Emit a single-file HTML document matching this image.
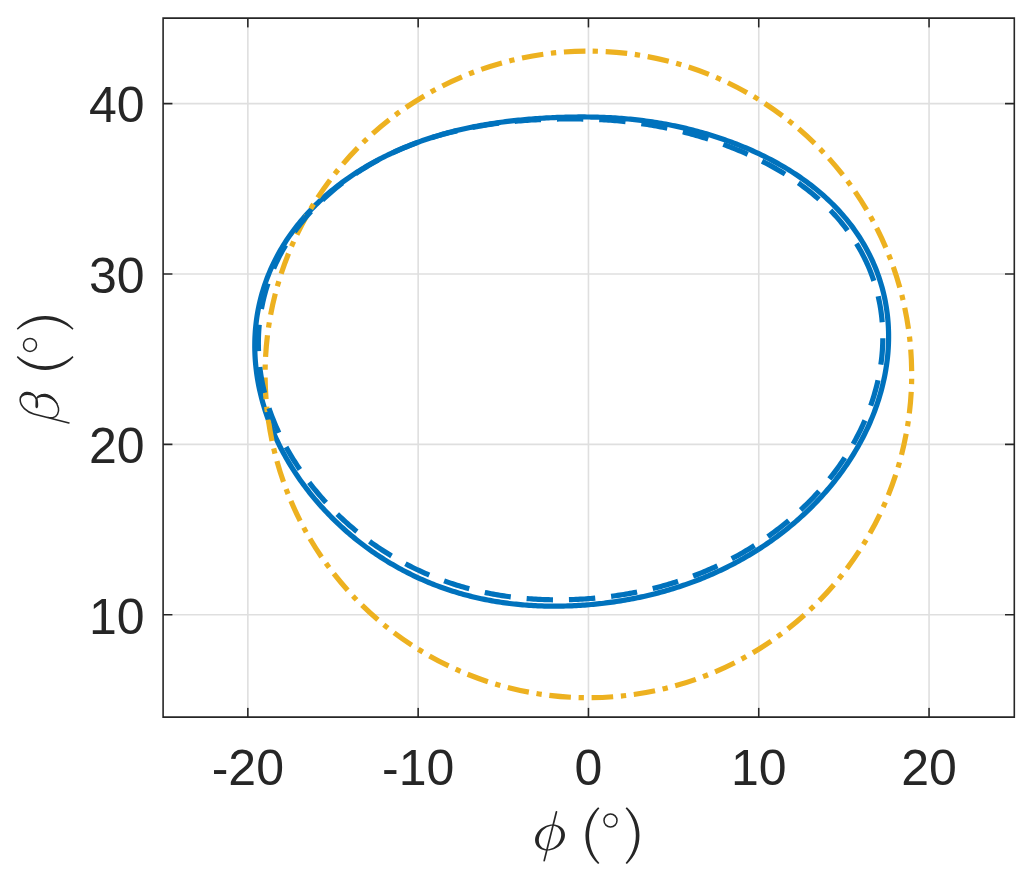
<!DOCTYPE html>
<html><head><meta charset="utf-8"><title>chart</title>
<style>html,body{margin:0;padding:0;background:#fff;}svg{display:block;}text{font-family:"Liberation Sans",sans-serif;fill:#262626;}</style></head><body>
<svg width="1033" height="882" viewBox="0 0 1033 882">
<rect width="1033" height="882" fill="#fff"/>
<path d="M247.85 28.10V707.10M418.15 28.10V707.10M588.45 28.10V707.10M758.75 28.10V707.10M929.05 28.10V707.10M173.10 614.80H1004.30M173.10 444.40H1004.30M173.10 274.00H1004.30M173.10 103.60H1004.30" stroke="#dfdfdf" stroke-width="1.6" fill="none"/>
<path d="M886.95 362.00 L886.58 364.75 L886.17 367.48 L885.72 370.22 L885.24 372.94 L884.73 375.65 L884.18 378.36 L883.59 381.06 L882.97 383.75 L882.32 386.42 L881.64 389.09 L880.92 391.75 L880.17 394.39 L879.39 397.02 L878.58 399.64 L877.73 402.25 L876.86 404.85 L875.96 407.43 L875.03 409.99 L874.07 412.55 L873.08 415.09 L872.07 417.61 L871.02 420.12 L869.95 422.62 L868.86 425.10 L867.74 427.56 L866.59 430.01 L865.42 432.44 L864.23 434.86 L863.01 437.26 L861.76 439.64 L860.50 442.01 L859.21 444.36 L857.90 446.69 L856.57 449.00 L855.22 451.30 L853.84 453.58 L852.45 455.84 L851.04 458.08 L849.60 460.30 L848.15 462.51 L846.68 464.70 L845.19 466.87 L843.69 469.02 L842.16 471.15 L840.62 473.27 L839.06 475.36 L837.49 477.44 L835.90 479.50 L834.29 481.53 L832.67 483.55 L831.04 485.55 L829.39 487.54 L827.72 489.50 L826.05 491.44 L824.36 493.37 L822.65 495.27 L820.94 497.16 L819.21 499.03 L817.47 500.88 L815.71 502.71 L813.95 504.52 L812.17 506.31 L810.39 508.08 L808.59 509.84 L806.78 511.57 L804.97 513.29 L803.14 514.99 L801.30 516.67 L799.46 518.33 L797.60 519.97 L795.74 521.59 L793.87 523.20 L791.99 524.78 L790.10 526.35 L788.20 527.90 L786.30 529.43 L784.39 530.94 L782.48 532.44 L780.55 533.92 L778.62 535.38 L776.68 536.82 L774.74 538.24 L772.79 539.65 L770.84 541.04 L768.88 542.41 L766.91 543.76 L764.94 545.10 L762.97 546.41 L760.99 547.72 L759.00 549.00 L757.01 550.27 L755.02 551.52 L753.02 552.75 L751.01 553.97 L749.01 555.17 L747.00 556.35 L744.98 557.52 L742.96 558.67 L740.94 559.81 L738.92 560.93 L736.89 562.03 L734.86 563.11 L732.83 564.18 L730.79 565.24 L728.75 566.28 L726.71 567.30 L724.66 568.31 L722.61 569.30 L720.56 570.28 L718.51 571.24 L716.46 572.19 L714.40 573.12 L712.34 574.03 L710.28 574.94 L708.22 575.82 L706.16 576.69 L704.09 577.55 L702.02 578.39 L699.95 579.22 L697.88 580.03 L695.81 580.83 L693.74 581.62 L691.66 582.39 L689.59 583.15 L687.51 583.89 L685.43 584.62 L683.35 585.33 L681.27 586.03 L679.19 586.72 L677.10 587.40 L675.02 588.06 L672.94 588.70 L670.85 589.34 L668.76 589.96 L666.68 590.57 L664.59 591.16 L662.50 591.75 L660.41 592.32 L658.32 592.87 L656.23 593.42 L654.14 593.95 L652.05 594.47 L649.95 594.98 L647.86 595.47 L645.77 595.96 L643.67 596.43 L641.58 596.89 L639.48 597.34 L637.39 597.77 L635.29 598.20 L633.19 598.61 L631.09 599.01 L628.99 599.40 L626.90 599.78 L624.80 600.15 L622.70 600.50 L620.59 600.85 L618.49 601.18 L616.39 601.50 L614.29 601.82 L612.18 602.12 L610.08 602.41 L607.97 602.69 L605.86 602.95 L603.76 603.21 L601.65 603.46 L599.54 603.69 L597.43 603.92 L595.31 604.14 L593.20 604.34 L591.09 604.53 L588.97 604.72 L586.86 604.89 L584.74 605.05 L582.62 605.20 L580.50 605.34 L578.38 605.47 L576.25 605.59 L574.13 605.70 L572.00 605.79 L569.87 605.88 L567.74 605.95 L565.61 606.02 L563.48 606.07 L561.34 606.11 L559.21 606.14 L557.07 606.16 L554.93 606.17 L552.78 606.16 L550.64 606.15 L548.49 606.12 L546.35 606.08 L544.20 606.03 L542.04 605.96 L539.89 605.89 L537.74 605.80 L535.58 605.70 L533.42 605.58 L531.26 605.46 L529.10 605.32 L526.93 605.17 L524.77 605.00 L522.60 604.82 L520.43 604.63 L518.26 604.42 L516.08 604.20 L513.91 603.97 L511.73 603.72 L509.55 603.46 L507.38 603.18 L505.19 602.89 L503.01 602.59 L500.83 602.26 L498.65 601.93 L496.46 601.58 L494.28 601.21 L492.09 600.83 L489.90 600.43 L487.71 600.02 L485.52 599.59 L483.33 599.15 L481.14 598.69 L478.95 598.21 L476.76 597.72 L474.57 597.21 L472.38 596.68 L470.19 596.14 L468.01 595.58 L465.82 595.00 L463.63 594.40 L461.44 593.79 L459.25 593.16 L457.07 592.52 L454.88 591.85 L452.70 591.17 L450.52 590.47 L448.34 589.75 L446.16 589.02 L443.99 588.26 L441.81 587.49 L439.64 586.70 L437.47 585.89 L435.30 585.07 L433.14 584.22 L430.98 583.36 L428.82 582.48 L426.66 581.58 L424.51 580.66 L422.36 579.72 L420.22 578.77 L418.08 577.79 L415.94 576.80 L413.81 575.79 L411.68 574.75 L409.55 573.70 L407.43 572.63 L405.32 571.55 L403.21 570.44 L401.10 569.31 L399.01 568.17 L396.91 567.00 L394.82 565.82 L392.74 564.62 L390.66 563.39 L388.59 562.15 L386.53 560.89 L384.47 559.61 L382.42 558.31 L380.38 557.00 L378.34 555.66 L376.31 554.30 L374.29 552.93 L372.27 551.53 L370.27 550.12 L368.27 548.69 L366.28 547.23 L364.29 545.76 L362.32 544.27 L360.35 542.76 L358.40 541.23 L356.45 539.69 L354.51 538.12 L352.58 536.53 L350.67 534.93 L348.76 533.30 L346.86 531.66 L344.97 529.99 L343.09 528.31 L341.22 526.61 L339.37 524.89 L337.52 523.15 L335.69 521.39 L333.87 519.62 L332.06 517.82 L330.26 516.00 L328.48 514.17 L326.70 512.32 L324.94 510.45 L323.20 508.56 L321.47 506.65 L319.75 504.72 L318.04 502.77 L316.35 500.81 L314.67 498.82 L313.01 496.82 L311.37 494.80 L309.73 492.76 L308.12 490.70 L306.52 488.63 L304.94 486.53 L303.37 484.42 L301.82 482.29 L300.29 480.14 L298.78 477.98 L297.28 475.79 L295.81 473.59 L294.35 471.37 L292.91 469.13 L291.49 466.88 L290.09 464.61 L288.71 462.32 L287.35 460.01 L286.01 457.69 L284.70 455.35 L283.40 452.99 L282.13 450.62 L280.88 448.23 L279.66 445.83 L278.46 443.41 L277.28 440.97 L276.13 438.52 L275.00 436.05 L273.90 433.57 L272.82 431.07 L271.77 428.56 L270.75 426.03 L269.75 423.49 L268.78 420.94 L267.84 418.37 L266.93 415.79 L266.05 413.20 L265.19 410.59 L264.37 407.98 L263.58 405.35 L262.82 402.70 L262.09 400.05 L261.39 397.39 L260.73 394.72 L260.10 392.03 L259.50 389.34 L258.93 386.64 L258.40 383.93 L257.91 381.21 L257.44 378.49 L257.02 375.75 L256.63 373.01 L256.27 370.27 L255.96 367.52 L255.68 364.76 L255.43 362.00 L255.23 359.24 L255.06 356.47 L254.93 353.70 L254.84 350.92 L254.78 348.15 L254.77 345.37 L254.80 342.60 L254.86 339.82 L254.96 337.05 L255.11 334.28 L255.29 331.50 L255.51 328.74 L255.78 325.97 L256.08 323.21 L256.43 320.45 L256.81 317.70 L257.23 314.96 L257.70 312.22 L258.20 309.49 L258.75 306.77 L259.33 304.05 L259.96 301.35 L260.62 298.65 L261.33 295.96 L262.07 293.29 L262.86 290.63 L263.68 287.98 L264.54 285.34 L265.44 282.72 L266.38 280.11 L267.35 277.51 L268.37 274.93 L269.42 272.37 L270.50 269.82 L271.63 267.29 L272.79 264.78 L273.98 262.28 L275.21 259.81 L276.48 257.35 L277.77 254.91 L279.11 252.49 L280.47 250.09 L281.87 247.71 L283.30 245.36 L284.76 243.02 L286.25 240.71 L287.78 238.42 L289.33 236.15 L290.91 233.90 L292.52 231.67 L294.15 229.47 L295.82 227.30 L297.51 225.14 L299.22 223.01 L300.96 220.91 L302.73 218.83 L304.52 216.77 L306.33 214.74 L308.16 212.73 L310.02 210.75 L311.90 208.79 L313.79 206.85 L315.71 204.95 L317.65 203.06 L319.60 201.21 L321.58 199.37 L323.57 197.57 L325.57 195.78 L327.60 194.03 L329.63 192.29 L331.69 190.59 L333.75 188.90 L335.84 187.25 L337.93 185.62 L340.04 184.01 L342.15 182.42 L344.28 180.87 L346.42 179.33 L348.58 177.82 L350.74 176.34 L352.91 174.88 L355.08 173.44 L357.27 172.02 L359.47 170.63 L361.67 169.27 L363.88 167.92 L366.09 166.60 L368.32 165.31 L370.54 164.03 L372.78 162.78 L375.02 161.55 L377.26 160.34 L379.51 159.16 L381.76 157.99 L384.01 156.85 L386.27 155.73 L388.53 154.63 L390.80 153.55 L393.06 152.49 L395.33 151.46 L397.60 150.44 L399.88 149.45 L402.15 148.47 L404.43 147.51 L406.70 146.58 L408.98 145.66 L411.25 144.76 L413.53 143.89 L415.81 143.03 L418.08 142.19 L420.36 141.36 L422.64 140.56 L424.91 139.78 L427.19 139.01 L429.46 138.26 L431.73 137.52 L434.00 136.81 L436.27 136.11 L438.54 135.43 L440.81 134.77 L443.07 134.12 L445.33 133.48 L447.59 132.87 L449.85 132.27 L452.10 131.68 L454.36 131.11 L456.61 130.56 L458.85 130.02 L461.10 129.49 L463.34 128.98 L465.58 128.49 L467.82 128.00 L470.05 127.53 L472.28 127.08 L474.51 126.63 L476.73 126.20 L478.95 125.79 L481.17 125.38 L483.39 124.99 L485.60 124.61 L487.80 124.24 L490.01 123.88 L492.21 123.54 L494.41 123.20 L496.61 122.88 L498.80 122.56 L500.99 122.26 L503.17 121.97 L505.35 121.69 L507.53 121.41 L509.71 121.15 L511.89 120.89 L514.06 120.65 L516.23 120.41 L518.39 120.19 L520.55 119.97 L522.72 119.76 L524.87 119.56 L527.03 119.36 L529.18 119.18 L531.34 119.00 L533.49 118.83 L535.63 118.67 L537.78 118.51 L539.92 118.37 L542.07 118.23 L544.21 118.09 L546.35 117.97 L548.49 117.85 L550.63 117.74 L552.77 117.64 L554.91 117.54 L557.04 117.45 L559.18 117.37 L561.32 117.30 L563.45 117.23 L565.59 117.17 L567.73 117.12 L569.86 117.07 L572.00 117.03 L574.14 117.00 L576.28 116.98 L578.42 116.96 L580.56 116.95 L582.70 116.95 L584.84 116.96 L586.99 116.98 L589.13 117.00 L591.28 117.03 L593.43 117.07 L595.58 117.12 L597.73 117.18 L599.89 117.25 L602.04 117.32 L604.20 117.41 L606.36 117.50 L608.53 117.60 L610.69 117.72 L612.86 117.84 L615.03 117.97 L617.20 118.12 L619.38 118.27 L621.55 118.43 L623.73 118.61 L625.92 118.79 L628.10 118.99 L630.29 119.19 L632.48 119.41 L634.68 119.64 L636.87 119.88 L639.07 120.14 L641.28 120.40 L643.48 120.68 L645.69 120.97 L647.90 121.27 L650.12 121.58 L652.33 121.91 L654.55 122.25 L656.78 122.60 L659.00 122.96 L661.23 123.34 L663.46 123.73 L665.70 124.14 L667.93 124.56 L670.17 124.99 L672.42 125.43 L674.66 125.89 L676.91 126.37 L679.16 126.85 L681.42 127.36 L683.67 127.87 L685.93 128.40 L688.20 128.95 L690.46 129.51 L692.73 130.08 L695.00 130.67 L697.27 131.28 L699.55 131.90 L701.83 132.53 L704.11 133.18 L706.39 133.85 L708.68 134.53 L710.97 135.23 L713.26 135.94 L715.55 136.67 L717.84 137.42 L720.14 138.19 L722.44 138.97 L724.74 139.76 L727.04 140.58 L729.34 141.41 L731.65 142.26 L733.95 143.13 L736.26 144.02 L738.57 144.92 L740.88 145.85 L743.19 146.79 L745.50 147.75 L747.81 148.73 L750.11 149.73 L752.42 150.75 L754.73 151.79 L757.04 152.85 L759.34 153.93 L761.65 155.04 L763.95 156.16 L766.25 157.31 L768.54 158.47 L770.83 159.66 L773.12 160.88 L775.41 162.11 L777.69 163.37 L779.96 164.65 L782.23 165.96 L784.50 167.28 L786.75 168.64 L789.00 170.01 L791.24 171.42 L793.48 172.84 L795.70 174.29 L797.91 175.77 L800.12 177.27 L802.31 178.80 L804.49 180.36 L806.66 181.94 L808.82 183.54 L810.96 185.18 L813.09 186.84 L815.20 188.53 L817.30 190.24 L819.38 191.98 L821.44 193.75 L823.49 195.54 L825.51 197.37 L827.52 199.22 L829.51 201.09 L831.47 203.00 L833.41 204.93 L835.33 206.89 L837.23 208.87 L839.10 210.88 L840.95 212.92 L842.77 214.98 L844.56 217.08 L846.33 219.19 L848.07 221.34 L849.78 223.50 L851.46 225.70 L853.11 227.92 L854.73 230.16 L856.31 232.43 L857.87 234.72 L859.39 237.04 L860.88 239.38 L862.33 241.74 L863.75 244.12 L865.14 246.53 L866.49 248.96 L867.80 251.41 L869.07 253.88 L870.31 256.36 L871.51 258.87 L872.67 261.40 L873.79 263.94 L874.87 266.51 L875.91 269.08 L876.92 271.68 L877.88 274.29 L878.80 276.92 L879.68 279.56 L880.52 282.21 L881.32 284.88 L882.08 287.56 L882.80 290.25 L883.47 292.95 L884.10 295.66 L884.70 298.38 L885.25 301.11 L885.75 303.85 L886.22 306.59 L886.64 309.35 L887.02 312.11 L887.36 314.87 L887.66 317.64 L887.92 320.41 L888.14 323.18 L888.31 325.96 L888.44 328.74 L888.54 331.52 L888.59 334.30 L888.60 337.08 L888.58 339.86 L888.51 342.64 L888.40 345.42 L888.26 348.19 L888.07 350.96 L887.85 353.73 L887.59 356.49 L887.29 359.25 Z" fill="none" stroke="#0072BD" stroke-width="5.2" stroke-linejoin="round"/>
<path d="M588.40 51.10 A323.3 323.3 0 1 1 588.39 51.10" fill="none" stroke="#EDB120" stroke-width="5.2" stroke-dasharray="21.6 7.7 5.3 7.72" stroke-dashoffset="-17.30"/>
<path d="M863.72 256.59 L864.92 258.99 L866.08 261.42 L867.20 263.86 L868.29 266.32 L869.34 268.79 L870.35 271.28 L871.32 273.79 L872.26 276.31 L873.16 278.85 L874.01 281.40 L874.83 283.96 L875.61 286.54 L876.35 289.13 L877.05 291.73 L877.71 294.34 L878.33 296.96 L878.91 299.59 L879.45 302.23 L879.95 304.88 L880.41 307.53 L880.83 310.20 L881.20 312.87 L881.54 315.54 L881.84 318.22 L882.10 320.90 L882.32 323.59 L882.50 326.28 L882.64 328.98 L882.74 331.67 L882.80 334.37 L882.82 337.07 L882.80 339.76 L882.75 342.46 L882.65 345.16 L882.52 347.85 L882.35 350.54 L882.14 353.23 L881.90 355.91 L881.62 358.60 L881.30 361.27 L880.94 363.94 L880.56 366.61 L880.13 369.27 L879.67 371.92 L879.18 374.56 L878.65 377.20 L878.08 379.83 L877.49 382.45 L876.86 385.06 L876.20 387.66 L875.51 390.25 L874.78 392.83 L874.03 395.40 L873.24 397.96 L872.43 400.50 L871.58 403.04 L870.71 405.56 L869.80 408.07 L868.87 410.56 L867.91 413.04 L866.93 415.51 L865.91 417.97 L864.87 420.41 L863.81 422.83 L862.72 425.25 L861.60 427.64 L860.46 430.02 L859.29 432.39 L858.11 434.74 L856.89 437.07 L855.66 439.39 L854.40 441.69 L853.12 443.97 L851.82 446.24 L850.50 448.49 L849.16 450.72 L847.80 452.94 L846.42 455.14 L845.02 457.32 L843.60 459.48 L842.16 461.63 L840.71 463.76 L839.23 465.87 L837.74 467.96 L836.23 470.04 L834.71 472.09 L833.17 474.13 L831.61 476.15 L830.04 478.15 L828.45 480.14 L826.85 482.10 L825.23 484.05 L823.60 485.98 L821.96 487.89 L820.30 489.78 L818.63 491.65 L816.95 493.50 L815.26 495.34 L813.55 497.16 L811.83 498.96 L810.10 500.74 L808.36 502.50 L806.61 504.24 L804.84 505.97 L803.07 507.67 L801.29 509.36 L799.49 511.03 L797.69 512.68 L795.88 514.32 L794.06 515.93 L792.23 517.53 L790.39 519.11 L788.55 520.67 L786.69 522.22 L784.83 523.74 L782.96 525.25 L781.09 526.74 L779.20 528.21 L777.31 529.66 L775.41 531.10 L773.51 532.52 L771.60 533.92 L769.69 535.31 L767.76 536.67 L765.84 538.02 L763.90 539.36 L761.97 540.67 L760.02 541.97 L758.07 543.25 L756.12 544.52 L754.16 545.76 L752.20 546.99 L750.23 548.21 L748.26 549.41 L746.29 550.59 L744.31 551.75 L742.33 552.90 L740.34 554.03 L738.35 555.15 L736.36 556.25 L734.36 557.34 L732.36 558.40 L730.36 559.46 L728.35 560.49 L726.34 561.51 L724.33 562.52 L722.32 563.51 L720.30 564.48 L718.28 565.44 L716.26 566.39 L714.23 567.32 L712.21 568.23 L710.18 569.13 L708.15 570.01 L706.11 570.88 L704.08 571.73 L702.04 572.57 L700.00 573.40 L697.96 574.21 L695.92 575.00 L693.88 575.78 L691.84 576.55 L689.79 577.30 L687.74 578.04 L685.69 578.76 L683.64 579.48 L681.59 580.17 L679.54 580.85 L677.49 581.52 L675.43 582.18 L673.38 582.82 L671.32 583.45 L669.26 584.07 L667.20 584.67 L665.15 585.26 L663.09 585.83 L661.02 586.40 L658.96 586.95 L656.90 587.49 L654.84 588.01 L652.77 588.53 L650.71 589.03 L648.64 589.51 L646.58 589.99 L644.51 590.45 L642.44 590.91 L640.38 591.35 L638.31 591.77 L636.24 592.19 L634.17 592.60 L632.10 592.99 L630.03 593.37 L627.96 593.74 L625.89 594.10 L623.81 594.45 L621.74 594.78 L619.67 595.11 L617.59 595.42 L615.52 595.72 L613.44 596.02 L611.36 596.30 L609.29 596.57 L607.21 596.83 L605.13 597.08 L603.05 597.31 L600.97 597.54 L598.89 597.76 L596.81 597.96 L594.72 598.16 L592.64 598.34 L590.55 598.52 L588.47 598.68 L586.38 598.83 L584.29 598.97 L582.20 599.10 L580.11 599.22 L578.02 599.33 L575.92 599.43 L573.83 599.52 L571.73 599.60 L569.64 599.67 L567.54 599.72 L565.44 599.77 L563.34 599.80 L561.24 599.82 L559.13 599.83 L557.03 599.83 L554.92 599.82 L552.81 599.80 L550.71 599.77 L548.59 599.72 L546.48 599.66 L544.37 599.59 L542.25 599.51 L540.14 599.42 L538.02 599.31 L535.90 599.20 L533.78 599.07 L531.66 598.93 L529.54 598.77 L527.41 598.61 L525.29 598.43 L523.16 598.23 L521.03 598.03 L518.90 597.81 L516.77 597.58 L514.64 597.33 L512.51 597.07 L510.38 596.80 L508.24 596.51 L506.11 596.21 L503.97 595.90 L501.84 595.57 L499.70 595.23 L497.56 594.87 L495.42 594.50 L493.28 594.11 L491.15 593.71 L489.01 593.29 L486.87 592.86 L484.73 592.42 L482.59 591.95 L480.45 591.48 L478.31 590.98 L476.17 590.47 L474.03 589.95 L471.89 589.41 L469.75 588.85 L467.62 588.28 L465.48 587.69 L463.34 587.09 L461.21 586.47 L459.08 585.83 L456.94 585.17 L454.81 584.50 L452.68 583.81 L450.56 583.11 L448.43 582.39 L446.30 581.65 L444.18 580.89 L442.06 580.12 L439.94 579.33 L437.83 578.52 L435.71 577.70 L433.60 576.86 L431.50 576.00 L429.39 575.12 L427.29 574.23 L425.19 573.31 L423.09 572.38 L421.00 571.44 L418.91 570.47 L416.83 569.49 L414.75 568.49 L412.67 567.47 L410.59 566.43 L408.53 565.38 L406.46 564.31 L404.40 563.21 L402.34 562.11 L400.29 560.98 L398.25 559.83 L396.21 558.67 L394.17 557.49 L392.14 556.29 L390.12 555.07 L388.10 553.83 L386.09 552.57 L384.08 551.30 L382.09 550.00 L380.09 548.69 L378.11 547.36 L376.13 546.01 L374.16 544.65 L372.19 543.26 L370.24 541.85 L368.29 540.43 L366.35 538.99 L364.41 537.53 L362.49 536.05 L360.57 534.55 L358.66 533.03 L356.76 531.49 L354.87 529.94 L352.99 528.37 L351.12 526.77 L349.26 525.16 L347.41 523.53 L345.57 521.88 L343.74 520.21 L341.92 518.53 L340.11 516.82 L338.31 515.10 L336.53 513.36 L334.75 511.60 L332.99 509.82 L331.24 508.02 L329.50 506.20 L327.77 504.37 L326.06 502.52 L324.35 500.65 L322.66 498.76 L320.99 496.85 L319.33 494.93 L317.68 492.98 L316.05 491.02 L314.43 489.04 L312.82 487.05 L311.23 485.03 L309.65 483.00 L308.09 480.95 L306.55 478.89 L305.02 476.81 L303.51 474.71 L302.01 472.59 L300.53 470.45 L299.07 468.30 L297.62 466.13 L296.20 463.95 L294.79 461.75 L293.39 459.53 L292.02 457.29 L290.67 455.04 L289.34 452.77 L288.02 450.49 L286.73 448.19 L285.46 445.87 L284.21 443.54 L282.99 441.19 L281.78 438.82 L280.60 436.44 L279.45 434.05 L278.32 431.63 L277.21 429.20 L276.14 426.76 L275.08 424.30 L274.06 421.83 L273.06 419.34 L272.10 416.84 L271.16 414.33 L270.25 411.80 L269.37 409.25 L268.52 406.70 L267.71 404.13 L266.92 401.55 L266.17 398.96 L265.45 396.35 L264.77 393.74 L264.12 391.11 L263.50 388.48 L262.91 385.83 L262.36 383.18 L261.85 380.52 L261.37 377.85 L260.92 375.17 L260.51 372.49 L260.13 369.80 L259.79 367.10 L259.49 364.40 L259.22 361.69 L258.99 358.98 L258.79 356.27 L258.63 353.55 L258.51 350.83 L258.42 348.11 L258.37 345.38 L258.36 342.66 L258.39 339.93 L258.45 337.20 L258.56 334.48 L258.70 331.75 L258.88 329.03 L259.10 326.31 L259.36 323.59 L259.66 320.88 L259.99 318.17 L260.37 315.47 L260.79 312.77 L261.24 310.07 L261.74 307.39 L262.27 304.71 L262.84 302.03 L263.45 299.37 L264.10 296.71 L264.79 294.07 L265.52 291.43 L266.29 288.81 L267.09 286.20 L267.94 283.59 L268.82 281.01 L269.74 278.43 L270.69 275.87 L271.69 273.32 L272.72 270.79 L273.78 268.27 L274.89 265.77 L276.03 263.28 L277.20 260.81 L278.41 258.36 L279.65 255.93 L280.93 253.51 L282.24 251.11 L283.58 248.74 L284.96 246.38 L286.37 244.04 L287.81 241.72 L289.27 239.43 L290.77 237.15 L292.30 234.90 L293.86 232.66 L295.45 230.45 L297.07 228.26 L298.71 226.10 L300.38 223.96 L302.07 221.84 L303.79 219.74 L305.54 217.67 L307.31 215.62 L309.10 213.59 L310.91 211.59 L312.75 209.62 L314.61 207.67 L316.49 205.74 L318.39 203.84 L320.31 201.96 L322.25 200.10 L324.20 198.28 L326.18 196.47 L328.17 194.69 L330.18 192.94 L332.20 191.21 L334.24 189.51 L336.29 187.83 L338.36 186.18 L340.44 184.55 L342.54 182.94 L344.64 181.36 L346.76 179.81 L348.89 178.28 L351.03 176.77 L353.18 175.29 L355.34 173.83 L357.51 172.40 L359.69 170.99 L361.88 169.61 L364.07 168.25 L366.28 166.91 L368.49 165.60 L370.70 164.31 L372.92 163.04 L375.15 161.80 L377.39 160.58 L379.62 159.38 L381.87 158.21 L384.12 157.05 L386.37 155.92 L388.62 154.82 L390.88 153.73 L393.14 152.67 L395.41 151.62 L397.68 150.60 L399.95 149.60 L402.22 148.62 L404.49 147.67 L406.76 146.73 L409.04 145.81 L411.31 144.91 L413.59 144.04 L415.86 143.18 L418.14 142.34 L420.42 141.52 L422.69 140.72 L424.97 139.94 L427.24 139.18 L429.52 138.43 L431.79 137.71 L434.06 137.00 L436.33 136.31 L438.60 135.63 L440.87 134.98 L443.13 134.34 L445.40 133.72 L447.66 133.11 L449.92 132.52 L452.17 131.95 L454.43 131.39 L456.68 130.85 L458.93 130.32 L461.17 129.81 L463.42 129.31 L465.66 128.83 L467.89 128.36 L470.13 127.91 L472.36 127.47 L474.59 127.04 L476.81 126.63 L479.03 126.23 L481.25 125.84 L483.47 125.47 L485.68 125.10 L487.89 124.75 L490.09 124.41 L492.30 124.08 L494.49 123.77 L496.69 123.46 L498.88 123.17 L501.07 122.89 L503.26 122.62 L505.44 122.36 L507.62 122.11 L509.80 121.87 L511.97 121.64 L514.14 121.42 L516.31 121.21 L518.48 121.01 L520.64 120.83 L522.80 120.65 L524.96 120.48 L527.11 120.32 L529.27 120.17 L531.42 120.03 L533.57 119.91 L535.72 119.79 L537.86 119.67 L540.01 119.57 L542.15 119.48 L544.29 119.39 L546.43 119.31 L548.57 119.24 L550.70 119.18 L552.84 119.13 L554.97 119.08 L557.11 119.04 L559.24 119.00 L561.37 118.97 L563.50 118.95 L565.64 118.94 L567.77 118.93 L569.90 118.93 L572.03 118.93 L574.16 118.94 L576.29 118.96 L578.43 118.98 L580.56 119.01 L582.70 119.04 L584.83 119.09 L586.97 119.13 L589.10 119.19 L591.24 119.26 L593.38 119.33 L595.52 119.41 L597.66 119.50 L599.81 119.60 L601.95 119.71 L604.10 119.83 L606.25 119.95 L608.40 120.09 L610.55 120.24 L612.71 120.40 L614.86 120.57 L617.02 120.75 L619.18 120.94 L621.34 121.14 L623.51 121.36 L625.67 121.58 L627.84 121.82 L630.01 122.07 L632.19 122.33 L634.36 122.61 L636.54 122.89 L638.72 123.19 L640.90 123.50 L643.08 123.82 L645.26 124.16 L647.45 124.51 L649.64 124.87 L651.83 125.24 L654.03 125.62 L656.22 126.02 L658.42 126.43 L660.62 126.86 L662.83 127.29 L665.03 127.74 L667.24 128.20 L669.45 128.68 L671.66 129.17 L673.88 129.67 L676.10 130.19 L678.31 130.72 L680.54 131.26 L682.76 131.81 L684.99 132.38 L687.22 132.97 L689.45 133.56 L691.68 134.17 L693.92 134.80 L696.15 135.44 L698.39 136.09 L700.63 136.76 L702.88 137.44 L705.13 138.14 L707.37 138.85 L709.62 139.58 L711.88 140.32 L714.13 141.08 L716.38 141.85 L718.64 142.64 L720.90 143.45 L723.16 144.27 L725.42 145.11 L727.68 145.96 L729.94 146.83 L732.21 147.72 L734.47 148.63 L736.74 149.55 L739.00 150.49 L741.27 151.45 L743.53 152.42 L745.79 153.42 L748.06 154.43 L750.32 155.46 L752.58 156.51 L754.84 157.58 L757.10 158.67 L759.35 159.78 L761.60 160.91 L763.85 162.06 L766.10 163.23 L768.34 164.42 L770.58 165.64 L772.81 166.87 L775.04 168.13 L777.26 169.41 L779.47 170.71 L781.68 172.03 L783.88 173.37 L786.08 174.74 L788.26 176.13 L790.44 177.55 L792.60 178.99 L794.76 180.45 L796.91 181.93 L799.04 183.44 L801.16 184.98 L803.27 186.54 L805.37 188.12 L807.45 189.73 L809.52 191.36 L811.57 193.02 L813.61 194.71 L815.63 196.41 L817.63 198.15 L819.61 199.91 L821.58 201.69 L823.52 203.50 L825.44 205.34 L827.35 207.20 L829.23 209.08 L831.09 210.99 L832.92 212.93 L834.74 214.89 L836.52 216.87 L838.29 218.88 L840.02 220.92 L841.73 222.98 L843.41 225.06 L845.06 227.17 L846.69 229.30 L848.28 231.45 L849.85 233.63 L851.38 235.83 L852.89 238.05 L854.36 240.29 L855.80 242.56 L857.20 244.85 L858.57 247.15 L859.91 249.48 L861.22 251.83 L862.49 254.20 Z" fill="none" stroke="#0072BD" stroke-width="5.2" stroke-dasharray="26.37 15.96" stroke-dashoffset="0.00"/>
<path d="M163.10 18.10H1014.30V717.10H163.10ZM247.85 717.10v-9.4M247.85 18.10v9.4M418.15 717.10v-9.4M418.15 18.10v9.4M588.45 717.10v-9.4M588.45 18.10v9.4M758.75 717.10v-9.4M758.75 18.10v9.4M929.05 717.10v-9.4M929.05 18.10v9.4M163.10 614.80h9.4M1014.30 614.80h-9.4M163.10 444.40h9.4M1014.30 444.40h-9.4M163.10 274.00h9.4M1014.30 274.00h-9.4M163.10 103.60h9.4M1014.30 103.60h-9.4" stroke="#262626" stroke-width="1.6" fill="none" stroke-linejoin="miter"/>
<text x="247.85" y="785" font-size="50" text-anchor="middle">-20</text>
<text x="418.15" y="785" font-size="50" text-anchor="middle">-10</text>
<text x="588.45" y="785" font-size="50" text-anchor="middle">0</text>
<text x="758.75" y="785" font-size="50" text-anchor="middle">10</text>
<text x="929.05" y="785" font-size="50" text-anchor="middle">20</text>
<text x="144.7" y="633.60" font-size="50" text-anchor="end">10</text>
<text x="144.7" y="463.20" font-size="50" text-anchor="end">20</text>
<text x="144.7" y="292.80" font-size="50" text-anchor="end">30</text>
<text x="144.7" y="122.40" font-size="50" text-anchor="end">40</text>
<g id="xlabel"><path d="M564.70 837.50 L564.21 839.20 L563.48 840.86 L562.51 842.47 L561.33 844.00 L559.96 845.41 L558.42 846.69 L556.73 847.81 L554.93 848.76 L553.04 849.51 L551.10 850.06 L549.15 850.39 L547.21 850.50 L545.31 850.39 L543.50 850.06 L541.79 849.51 L540.23 848.76 L538.83 847.81 L537.63 846.69 L536.64 845.41 L535.87 844.00 L535.35 842.47 L535.08 840.86 L535.06 839.20 L535.30 837.50 L535.79 835.80 L536.52 834.14 L537.49 832.53 L538.67 831.00 L540.04 829.59 L541.58 828.31 L543.27 827.19 L545.07 826.24 L546.96 825.49 L548.90 824.94 L550.85 824.61 L552.79 824.50 L554.69 824.61 L556.50 824.94 L558.21 825.49 L559.77 826.24 L561.17 827.19 L562.37 828.31 L563.36 829.59 L564.13 831.00 L564.65 832.53 L564.92 834.14 L564.94 835.80Z M560.90 837.50 L561.14 835.97 L561.18 834.46 L561.04 833.00 L560.70 831.62 L560.19 830.35 L559.49 829.19 L558.64 828.18 L557.64 827.32 L556.51 826.64 L555.26 826.15 L553.93 825.85 L552.53 825.75 L551.08 825.85 L549.62 826.15 L548.16 826.64 L546.74 827.32 L545.37 828.18 L544.08 829.19 L542.89 830.35 L541.82 831.62 L540.90 833.00 L540.13 834.46 L539.52 835.97 L539.10 837.50 L538.86 839.03 L538.82 840.54 L538.96 842.00 L539.30 843.38 L539.81 844.65 L540.51 845.81 L541.36 846.82 L542.36 847.68 L543.49 848.36 L544.74 848.85 L546.07 849.15 L547.47 849.25 L548.92 849.15 L550.38 848.85 L551.84 848.36 L553.26 847.68 L554.63 846.82 L555.92 845.81 L557.11 844.65 L558.18 843.38 L559.10 842.00 L559.87 840.54 L560.48 839.03Z" fill="#262626" fill-rule="evenodd"/><path d="M556.45 811.8 L544.2 860.6" stroke="#262626" stroke-width="1.7" stroke-linecap="round" fill="none"/><path d="M598.1 807.3 C581.3 822.3 581.3 849.0 598.1 864.0 L599.4 863.1 C585.7 847.1 585.7 824.2 599.4 808.2 Z M626.9 807.3 C643.7 822.3 643.7 849.0 626.9 864.0 L625.6 863.1 C639.3 847.1 639.3 824.2 625.6 808.2 Z" fill="#262626"/><circle cx="610.5" cy="820.5" r="6.5" fill="none" stroke="#262626" stroke-width="1.5"/></g><g id="ylabel"><path d="M 68.96 422.89 L 33.72 413.88 C 26.94 412.05 20.16 406.29 20.16 399.85 C 20.16 395.11 23.55 392.60 27.28 392.74 C 31.68 392.94 35.07 395.79 36.29 399.18 L 36.16 405.95 C 36.16 408.33 37.51 407.99 37.44 405.28 C 37.44 402.23 36.97 399.85 36.77 398.30 C 38.46 395.79 41.51 394.77 44.56 394.91 C 51.34 395.59 56.76 401.55 58.45 407.99 C 59.33 412.39 56.76 417.13 52.69 417.68 C 50.66 417.81 49.30 417.68 47.95 417.47" fill="none" stroke="#262626" stroke-width="1.55" stroke-linecap="round" stroke-linejoin="round"/><path d="M 20.30 399.18 C 20.16 394.10 24.23 391.59 27.62 391.79 C 32.36 392.06 35.41 395.45 36.43 398.70 C 34.40 395.99 31.01 395.04 27.28 395.04 C 23.89 395.04 21.52 396.67 20.30 399.18 Z M 36.63 398.30 C 38.46 394.98 41.85 393.42 45.24 393.69 C 52.01 394.30 57.77 400.87 59.33 408.33 C 58.79 406.29 57.44 404.26 56.76 403.58 C 54.05 400.33 49.30 397.28 44.22 396.94 C 40.83 396.81 38.46 397.48 36.63 398.30 Z" fill="#262626"/><g transform="translate(-790.5 955.4) rotate(-90)"><path d="M598.1 807.3 C581.3 822.3 581.3 849.0 598.1 864.0 L599.4 863.1 C585.7 847.1 585.7 824.2 599.4 808.2 Z M626.9 807.3 C643.7 822.3 643.7 849.0 626.9 864.0 L625.6 863.1 C639.3 847.1 639.3 824.2 625.6 808.2 Z" fill="#262626"/><circle cx="610.5" cy="820.5" r="6.5" fill="none" stroke="#262626" stroke-width="1.5"/></g></g>
</svg></body></html>
